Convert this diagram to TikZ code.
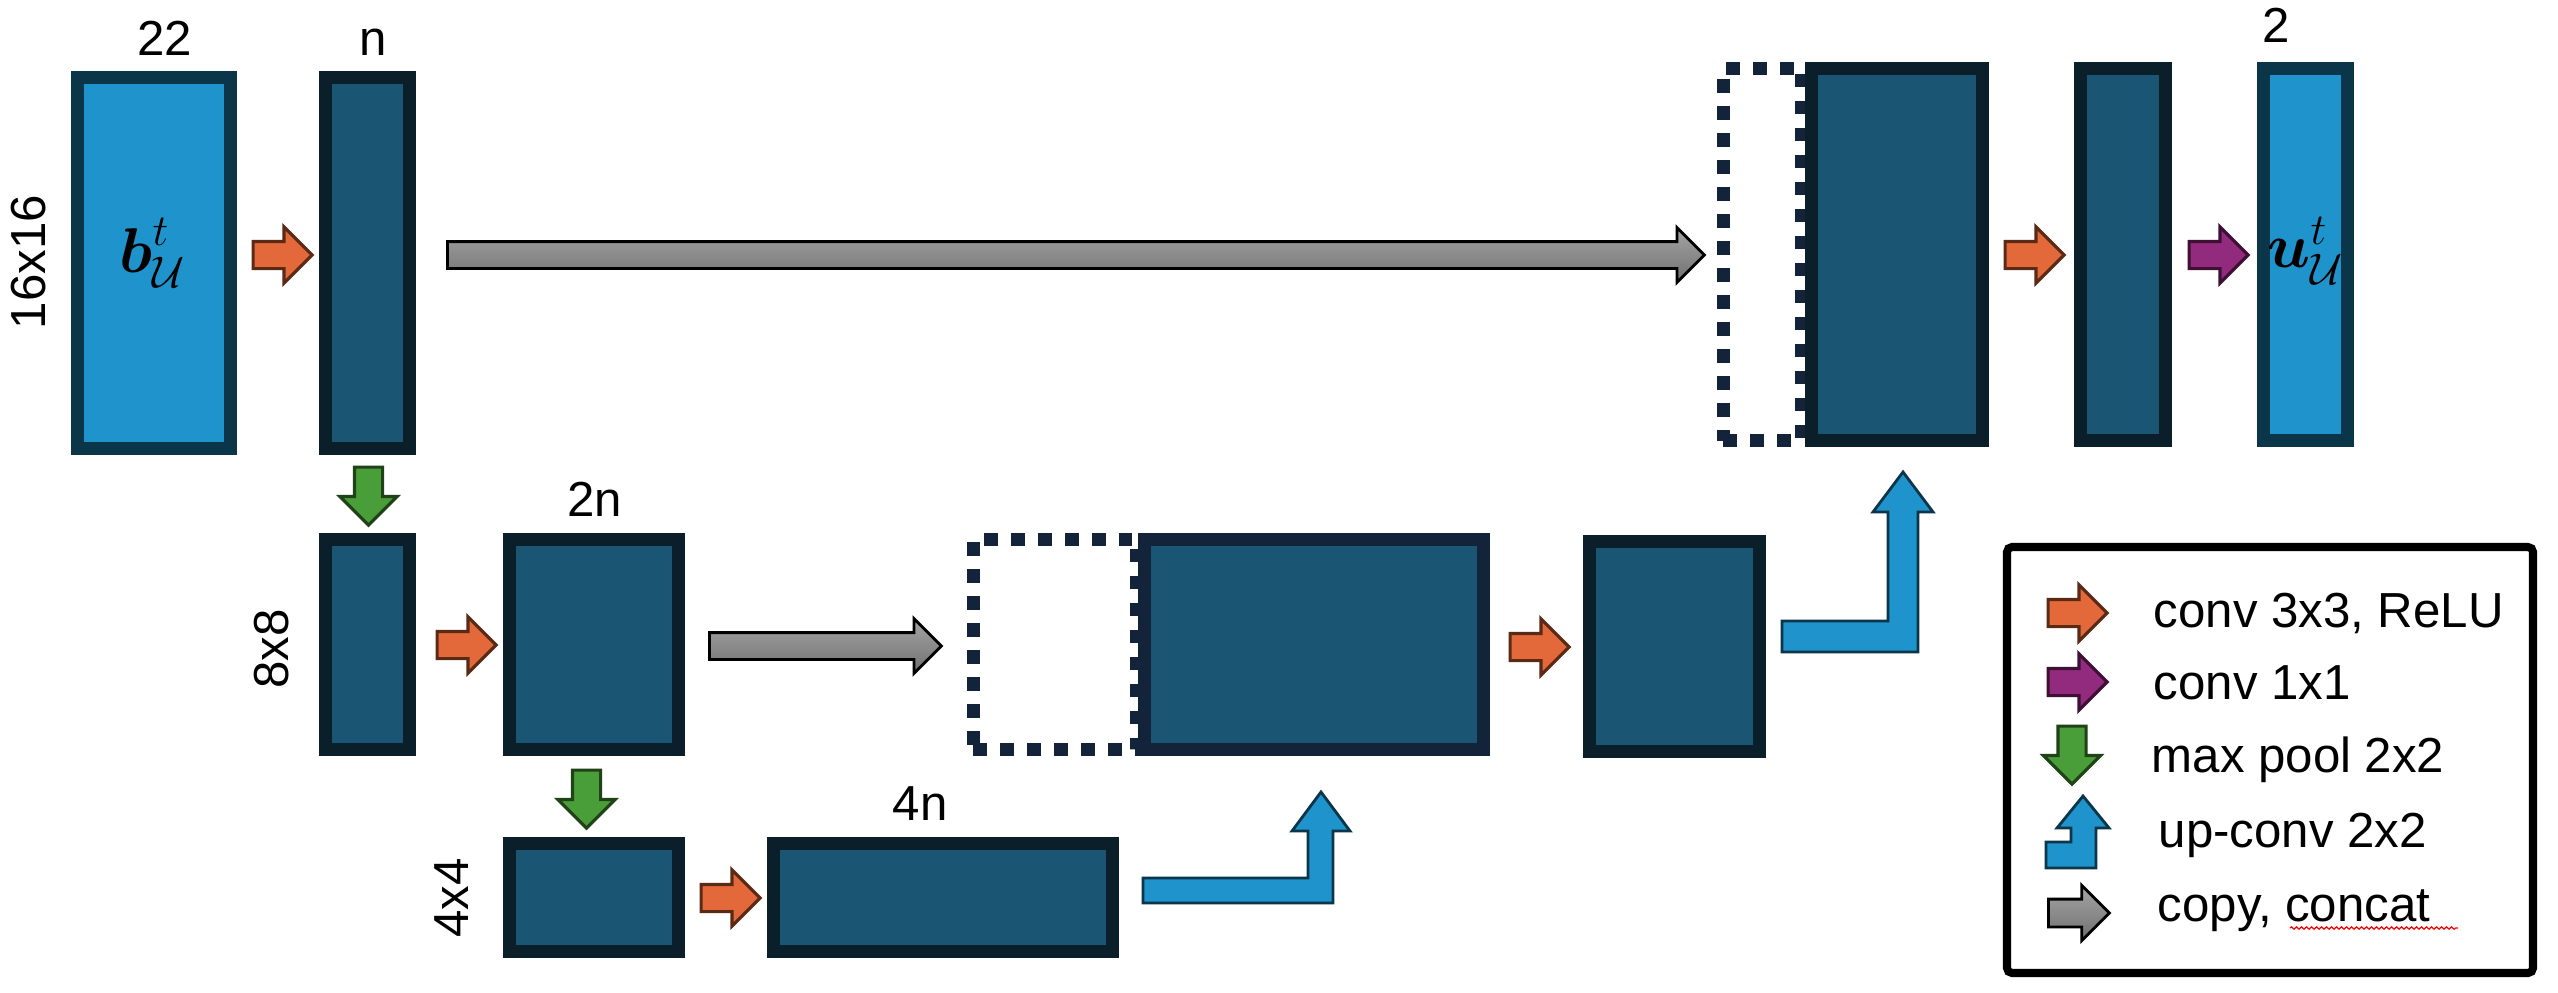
\documentclass[tikz,border=0pt]{standalone}
\usepackage{fix-cm}
\usepackage{amsmath}
\usepackage{fontspec}
\setmainfont{Liberation Sans}
\usetikzlibrary{shapes.arrows, decorations.pathmorphing}

\definecolor{inblue}{HTML}{1F93CB}
\definecolor{inedge}{HTML}{0B3549}
\definecolor{mapfill}{HTML}{1B5574}
\definecolor{mapedge}{HTML}{0B1F2B}
\definecolor{catedge}{HTML}{13233A}
\definecolor{convfill}{HTML}{E3683A}
\definecolor{convedge}{HTML}{5A2A14}
\definecolor{onefill}{HTML}{922A7E}
\definecolor{oneedge}{HTML}{3D1034}
\definecolor{poolfill}{HTML}{4A9E39}
\definecolor{pooledge}{HTML}{1F4217}
\definecolor{copytop}{HTML}{A5A5A5}
\definecolor{copybot}{HTML}{707070}

\begin{document}
\begin{tikzpicture}[x=0.1mm, y=-0.1mm,
  lbl/.style={inner sep=0pt, font=\fontsize{14}{17}\selectfont},
  mth/.style={inner sep=0pt, font=\fontsize{18}{21}\selectfont},
  fmap/.style 2 args={rectangle, inner sep=0pt, line width=3.6pt,
    draw=mapedge, fill=mapfill, minimum width=#1, minimum height=#2},
  fin/.style 2 args={fmap={#1}{#2}, draw=inedge, fill=inblue},
  fcat/.style 2 args={rectangle, inner sep=0pt, line width=3.6pt, draw=catedge,
    dash pattern=on 3.84pt off 3.84pt, minimum width=#1, minimum height=#2},
  blk/.style={single arrow, anchor=tail, inner xsep=0pt, inner ysep=1.2mm,
    single arrow tip angle=90, single arrow head extend=1.45mm, line width=0.9pt},
  conv3/.style={blk, minimum height=5.9mm, fill=convfill, draw=convedge},
  conv1/.style={blk, minimum height=5.9mm, fill=onefill, draw=oneedge},
  maxpool/.style={blk, minimum height=5.8mm, inner ysep=1.25mm, rotate=-90,
    fill=poolfill, draw=pooledge},
  copyarrow/.style={blk, inner ysep=1.2mm, single arrow head extend=1.4mm,
    top color=copytop, bottom color=copybot, draw=black, line width=0.8pt,
    minimum height=#1},
  upconv/.style={fill=inblue, draw=inedge, line width=0.8pt},
]
\useasboundingbox (0,0) rectangle (2558,992);

% top row
\node[fin={15.335mm}{37.135mm}] (inp) at (154,263) {};
\node[mth] (inlab) at (153,253) {$\boldsymbol{b}^{t}_{\mathcal{U}}$};
\node[fmap={8.435mm}{37.135mm}] (e1) at (367.5,263) {};
\node[fcat={7.835mm}{37.235mm}] (c1) at (1762.5,254.5) {};
\node[fmap={17.135mm}{37.235mm}] (d1) at (1897,254.5) {};
\node[fmap={8.535mm}{37.235mm}] (d1b) at (2123,254.5) {};
\node[fin={8.435mm}{37.235mm}] (out) at (2305.5,254.5) {};
\node[mth] (outlab) at (2306,251) {$\boldsymbol{u}^{t}_{\mathcal{U}}$};

% middle row
\node[fmap={8.435mm}{21.035mm}] (p1) at (367.5,644.5) {};
\node[fmap={16.935mm}{21.035mm}] (e2) at (594,644.5) {};
\node[fcat={16.335mm}{21.035mm}] (c2) at (1055,644.5) {};
\node[fmap={33.935mm}{21.035mm}, draw=catedge] (d2) at (1314,644.5) {};
\node[fmap={17.035mm}{21.035mm}] (d2b) at (1674.5,646.5) {};

% bottom row
\node[fmap={16.935mm}{10.835mm}] (p2) at (594,897.5) {};
\node[fmap={33.935mm}{10.835mm}] (e3) at (943,897.5) {};

% sizes
\node[lbl, anchor=base] (s22) at (165,55) {22};
\node[lbl, anchor=base] (sn) at (373,55) {n};
\node[lbl, anchor=base] (s2) at (2276,42) {2};
\node[lbl, anchor=base] (s2n) at (595,516) {2n};
\node[lbl, anchor=base] (s4n) at (920,820) {4n};
\node[lbl, rotate=90] (r16) at (29,262) {16x16};
\node[lbl, rotate=90] (r8) at (272,649) {8x8};
\node[lbl, rotate=90] (r4) at (452,898) {4x4};

% operations
\node[conv3] (a1) at (251.5,255) {};
\node[conv3] (a2) at (435.5,645) {};
\node[conv3] (a3) at (699.5,898) {};
\node[conv3] (a4) at (1508.5,647) {};
\node[conv3] (a5) at (2003.5,255) {};
\node[conv1] (a6) at (2187.5,255) {};
\node[maxpool] (m1) at (368.5,465.5) {};
\node[maxpool] (m2) at (586.5,768.5) {};
\node[copyarrow=125.7mm] (k1) at (446,255) {};
\node[copyarrow=23.2mm] (k2) at (708,646) {};
\draw[upconv] (1143,878) -- (1308,878) -- (1308,831) -- (1292,831) -- (1321,792)
  -- (1350,831) -- (1333,831) -- (1333,903) -- (1143,903) -- cycle;
\draw[upconv] (1782,621) -- (1888,621) -- (1888,512) -- (1873,512) -- (1903,472)
  -- (1933,512) -- (1918,512) -- (1918,652) -- (1782,652) -- cycle;

% legend
\node[draw=black, line width=2.3pt, rounded corners=0.5mm, minimum width=52.6mm,
  minimum height=42.6mm] (leg) at (2270,760) {};
\node[conv3] (l1) at (2046.5,613) {};
\node[conv1] (l2) at (2046.5,682) {};
\node[maxpool] (l3) at (2072,724.5) {};
\draw[upconv] (2046,842) -- (2071,842) -- (2071,828) -- (2057,828) -- (2083,796)
  -- (2109,828) -- (2096,828) -- (2096,868) -- (2046,868) -- cycle;
\node[copyarrow=6.1mm, inner ysep=1.25mm, single arrow head extend=1.375mm] (l5) at (2047,913) {};
\node[lbl, anchor=base west] (t1) at (2153,627) {conv 3x3, ReLU};
\node[lbl, anchor=base west] (t2) at (2153,699) {conv 1x1};
\node[lbl, anchor=base west] (t3) at (2151,772) {max pool 2x2};
\node[lbl, anchor=base west] (t4) at (2158,847) {up-conv 2x2};
\node[lbl, anchor=base west] (t5) at (2157,921) {copy, concat};
\draw[red, line width=0.35pt, decorate,
  decoration={snake, amplitude=0.12mm, segment length=0.5mm}] (2290,928) -- (2458,928);
\end{tikzpicture}
\end{document}
